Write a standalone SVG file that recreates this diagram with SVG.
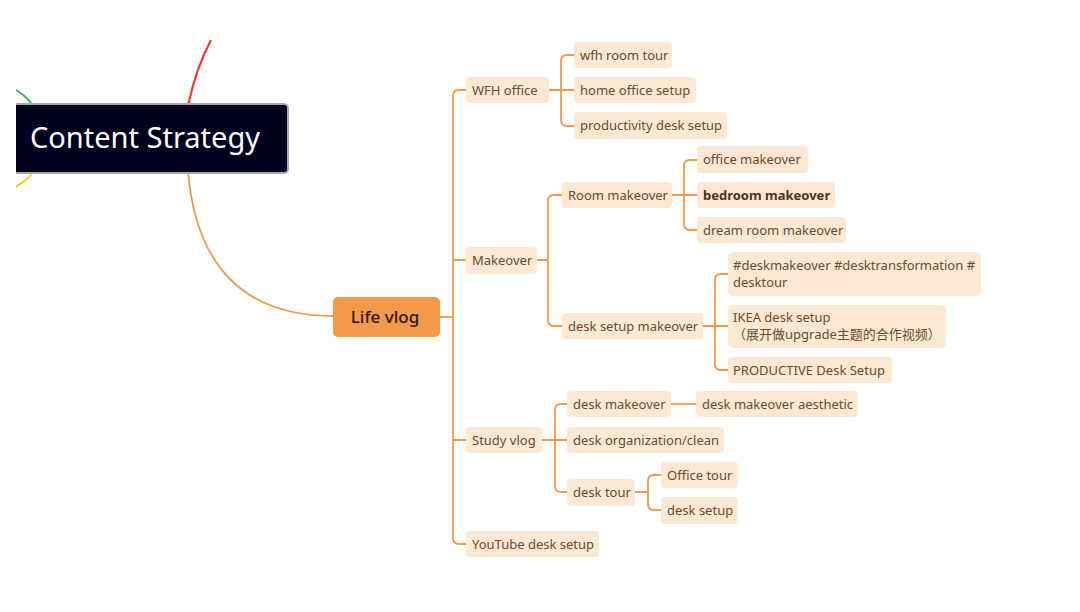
<svg xmlns="http://www.w3.org/2000/svg" width="1080" height="612" viewBox="0 0 1080 612">
<defs>
<clipPath id="clipL"><rect x="16" y="0" width="1064" height="612"/></clipPath>
<style>
.n rect{fill:#FDE8D3;}
.n text{font-family:"Noto Sans","Noto Sans CJK SC",sans-serif;font-size:13px;fill:#6B4A2E;}
.c{fill:none;stroke:#F2994A;stroke-width:1.8;}
</style>
</defs>
<rect width="1080" height="612" fill="#ffffff"/>
<g id="connectors" clip-path="url(#clipL)">
<path d="M8,86 Q26,94 33,106" fill="none" stroke="#2DBE6C" stroke-width="2"/>
<path d="M33,172 Q26,182 10,190" fill="none" stroke="#F2D024" stroke-width="2"/>
<path d="M211,40 Q196,68 188,106" fill="none" stroke="#F0393A" stroke-width="2.2"/>
<path class="c" d="M188,172 C196,262 240,316 334,316" stroke-width="2.2"/>
<path class="c" d="M440,317 H453"/>
<path class="c" d="M466,90 H459 Q453,90 453,96 V538 Q453,544 459,544 H466"/>
<path class="c" d="M453,260 H466 M453,440 H466"/>
<path class="c" d="M549,90 H574 M574,55 H567 Q561,55 561,61 V120 Q561,126 567,126 H574"/>
<path class="c" d="M537,260 H548 M562,195 H554 Q548,195 548,201 V320 Q548,326 554,326 H562"/>
<path class="c" d="M672,195 H697 M697,160 H690 Q684,160 684,166 V224 Q684,230 690,230 H697"/>
<path class="c" d="M703,326 H728 M728,274 H721 Q715,274 715,280 V364 Q715,370 721,370 H728"/>
<path class="c" d="M542,440 H567 M567,404 H561 Q555,404 555,410 V486 Q555,492 561,492 H567"/>
<path class="c" d="M671,404 H696"/>
<path class="c" d="M635,492 H648 M661,475 H654 Q648,475 648,481 V504 Q648,510 654,510 H661"/>
</g>
<g id="root" clip-path="url(#clipL)">
<rect x="6" y="104" width="282" height="69" rx="4" fill="#00001F" stroke="#A9A9A9" stroke-width="2"/>
<text x="30" y="148" font-family="Noto Sans, sans-serif" font-size="29" fill="#ffffff">Content Strategy</text>
</g>
<g id="life-vlog">
<rect x="333" y="297" width="107" height="40" rx="5" fill="#F2994A"/>
<text x="385" y="323" text-anchor="middle" font-family="Noto Sans, sans-serif" font-size="17" font-weight="500" fill="#2B1A0C">Life vlog</text>
</g>
<g id="wfh-office" class="n"><rect x="466" y="77" width="83" height="26" rx="4"/><text x="472" y="95">WFH office</text></g>
<g id="wfh-room-tour" class="n"><rect x="574" y="42" width="98" height="26" rx="4"/><text x="580" y="60">wfh room tour</text></g>
<g id="home-office-setup" class="n"><rect x="574" y="77" width="122" height="26" rx="4"/><text x="580" y="95">home office setup</text></g>
<g id="productivity-desk-setup" class="n"><rect x="574" y="112" width="153" height="27" rx="4"/><text x="580" y="130">productivity desk setup</text></g>
<g id="makeover" class="n"><rect x="466" y="247" width="71" height="27" rx="4"/><text x="472" y="265">Makeover</text></g>
<g id="room-makeover" class="n"><rect x="562" y="182" width="110" height="26" rx="4"/><text x="568" y="200">Room makeover</text></g>
<g id="office-makeover" class="n"><rect x="697" y="146" width="111" height="27" rx="4"/><text x="703" y="164">office makeover</text></g>
<g id="bedroom-makeover" class="n"><rect x="697" y="182" width="138" height="26" rx="4"/><text x="703" y="200" font-weight="bold" style="fill:#4A3220">bedroom makeover</text></g>
<g id="dream-room-makeover" class="n"><rect x="697" y="217" width="149" height="26" rx="4"/><text x="703" y="235">dream room makeover</text></g>
<g id="desk-setup-makeover" class="n"><rect x="562" y="313" width="141" height="26" rx="4"/><text x="568" y="331">desk setup makeover</text></g>
<g id="hashtags" class="n"><rect x="728" y="252" width="253" height="44" rx="5"/><text x="733" y="270">#deskmakeover #desktransformation #</text><text x="733" y="287">desktour</text></g>
<g id="ikea-desk-setup" class="n"><rect x="728" y="305" width="218" height="43" rx="5"/><text x="733" y="322">IKEA desk setup</text><text x="733" y="339">（展开做upgrade主题的合作视频）</text></g>
<g id="productive-desk-setup" class="n"><rect x="728" y="357" width="164" height="26" rx="4"/><text x="733" y="375">PRODUCTIVE Desk Setup</text></g>
<g id="study-vlog" class="n"><rect x="466" y="427" width="76" height="26" rx="4"/><text x="472" y="445">Study vlog</text></g>
<g id="desk-makeover" class="n"><rect x="567" y="391" width="104" height="26" rx="4"/><text x="573" y="409">desk makeover</text></g>
<g id="desk-makeover-aesthetic" class="n"><rect x="696" y="391" width="162" height="26" rx="4"/><text x="702" y="409">desk makeover aesthetic</text></g>
<g id="desk-organization" class="n"><rect x="567" y="427" width="157" height="26" rx="4"/><text x="573" y="445">desk organization/clean</text></g>
<g id="desk-tour" class="n"><rect x="567" y="479" width="68" height="27" rx="4"/><text x="573" y="497">desk tour</text></g>
<g id="office-tour" class="n"><rect x="661" y="462" width="77" height="26" rx="4"/><text x="667" y="480">Office tour</text></g>
<g id="desk-setup" class="n"><rect x="661" y="497" width="77" height="27" rx="4"/><text x="667" y="515">desk setup</text></g>
<g id="youtube-desk-setup" class="n"><rect x="466" y="531" width="133" height="26" rx="4"/><text x="472" y="549">YouTube desk setup</text></g>
</svg>
